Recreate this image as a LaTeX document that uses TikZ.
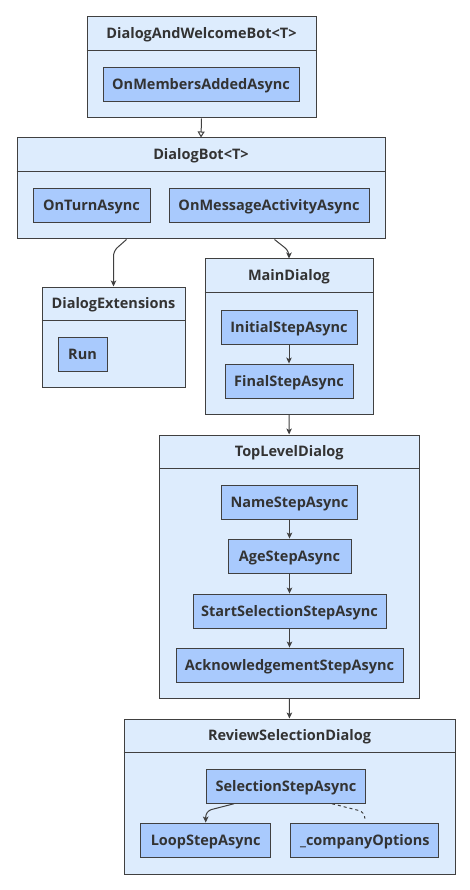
\documentclass[tikz,border=0pt]{standalone}
\usepackage{fontspec}
\setmainfont{Open Sans}
\usetikzlibrary{arrows.meta,calc}
\definecolor{outerfill}{HTML}{DDECFD}
\definecolor{innerfill}{HTML}{A9CAFD}
\definecolor{strokec}{HTML}{404040}
\definecolor{textc}{HTML}{333333}
\begin{document}
\begin{tikzpicture}[x=1pt,y=-1pt,
  font=\fontsize{14.5}{17}\selectfont\bfseries,
  outer/.style={draw=strokec,fill=outerfill,line width=1pt,inner sep=0pt,minimum height=#1},
  inner/.style={draw=strokec,fill=innerfill,line width=0.9pt,inner sep=0pt,minimum height=34,text=textc,minimum width=#1,text height=10.4pt,text depth=0pt},
  ttl/.style={text=textc,inner sep=0pt,text height=10.4pt,text depth=0pt},
  hline/.style={draw=strokec,line width=1pt},
  conn/.style={draw=strokec,line width=1pt,-{Stealth[length=6pt,width=5.5pt,inset=1.5pt]}},
  ]
\useasboundingbox[fill=white] (0,0) rectangle (470,890);
% DialogAndWelcomeBot
\node[outer=101,minimum width=229] (dwb) at (201.5,67.5) {};
\draw[hline] ($(dwb.north west)+(0,34)$) -- ($(dwb.north east)+(0,34)$);
\node[ttl] (dwbt) at ($(dwb.north)+(0,17)$) {DialogAndWelcomeBot\textless T\textgreater};
\node[inner=196] (oma) at (201,84.5) {OnMembersAddedAsync};
% DialogBot
\node[outer=101,minimum width=368] (db) at (201,188.5) {};
\draw[hline] ($(db.north west)+(0,34)$) -- ($(db.north east)+(0,34)$);
\node[ttl] (dbt) at ($(db.north)+(0,17)$) {DialogBot\textless T\textgreater};
\node[inner=117] (ota) at (91.5,205) {OnTurnAsync};
\node[inner=200] (omaa) at (269,205) {OnMessageActivityAsync};
% DialogExtensions
\node[outer=100,minimum width=143] (dext) at (113.5,337) {};
\draw[hline] ($(dext.north west)+(0,34)$) -- ($(dext.north east)+(0,34)$);
\node[ttl] (dextt) at ($(dext.north)+(0,17)$) {DialogExtensions};
\node[inner=49] (run) at (82.5,354) {Run};
% MainDialog
\node[outer=155.5,minimum width=168] (md) at (289,336.75) {};
\draw[hline] ($(md.north west)+(0,34)$) -- ($(md.north east)+(0,34)$);
\node[ttl] (mdt) at ($(md.north)+(0,17)$) {MainDialog};
\node[inner=136] (isa) at (289,327) {InitialStepAsync};
\node[inner=128] (fsa) at (289,381) {FinalStepAsync};
% TopLevelDialog
\node[outer=263,minimum width=259.5] (tld) at (289.25,566.5) {};
\draw[hline] ($(tld.north west)+(0,34)$) -- ($(tld.north east)+(0,34)$);
\node[ttl] (tldt) at ($(tld.north)+(0,17)$) {TopLevelDialog};
\node[inner=136] (nsa) at (289.5,502) {NameStepAsync};
\node[inner=123] (asa) at (289.5,556) {AgeStepAsync};
\node[inner=193] (ssa) at (289.5,611) {StartSelectionStepAsync};
\node[inner=227] (ack) at (289.5,665) {AcknowledgementStepAsync};
% ReviewSelectionDialog
\node[outer=155,minimum width=331] (rsd) at (289.5,796.5) {};
\draw[hline] ($(rsd.north west)+(0,34)$) -- ($(rsd.north east)+(0,34)$);
\node[ttl] (rsdt) at ($(rsd.north)+(0,17)$) {ReviewSelectionDialog};
\node[inner=159] (sel) at (286,786.3) {SelectionStepAsync};
\node[inner=130] (loop) at (205.7,840) {LoopStepAsync};
\node[inner=148] (co) at (364.8,840) {\_companyOptions};
% connectors
\draw[draw=strokec,line width=1pt,-{Triangle[open,length=6pt,width=7pt]}] (dwb.south) -- (db.north);
\coordinate (dbl) at ($(db.south west)+(110,0)$);
\coordinate (dbr) at ($(db.south west)+(258,0)$);
\draw[conn,rounded corners=5pt] (dbl) -- (dext.north |- {(0,251)}) -- (dext.north);
\draw[conn,rounded corners=5pt] (dbr) -- (md.north |- {(0,251)}) -- (md.north);
\draw[conn] (isa) -- (fsa);
\draw[conn] (md) -- (tld);
\draw[conn] (nsa) -- (asa);
\draw[conn] (asa) -- (ssa);
\draw[conn] (ssa) -- (ack);
\draw[conn] (tld) -- (rsd);
\coordinate (sell) at ($(sel.south west)+(28,0)$);
\coordinate (selr) at ($(sel.south west)+(126,0)$);
\coordinate (coend) at ($(co.north)+(0,-4)$);
\draw[conn,rounded corners=6pt] (sell) -- (loop.north |- {(0,811)}) -- (loop.north);
\draw[draw=strokec,line width=1pt,dashed,rounded corners=6pt] (selr) -- (coend |- {(0,812)}) -- (coend);
\end{tikzpicture}
\end{document}
